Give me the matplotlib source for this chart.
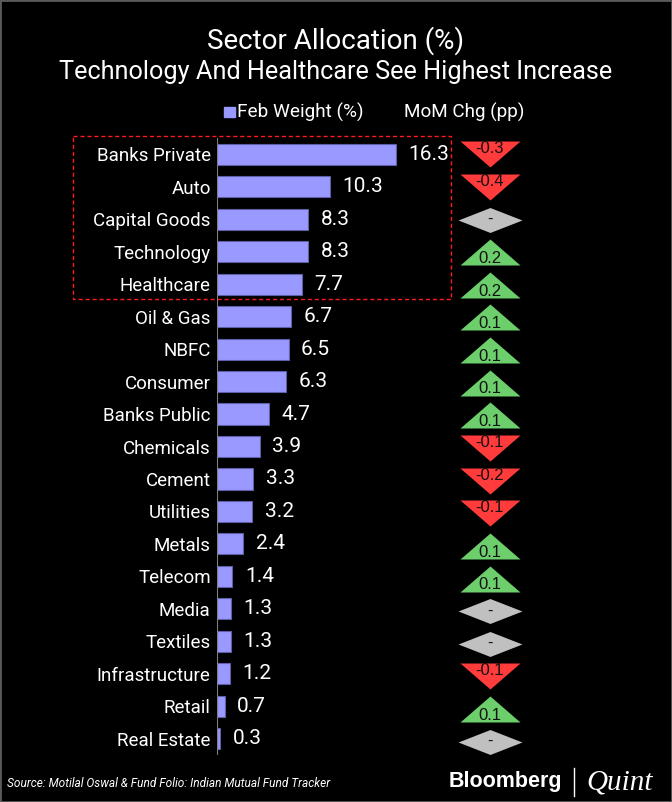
import matplotlib
matplotlib.use('Agg')
import matplotlib.pyplot as plt
from matplotlib.patches import Rectangle
from matplotlib.lines import Line2D
from matplotlib.path import Path

sectors = ['Banks Private', 'Auto', 'Capital Goods', 'Technology', 'Healthcare',
           'Oil & Gas', 'NBFC', 'Consumer', 'Banks Public', 'Chemicals', 'Cement',
           'Utilities', 'Metals', 'Telecom', 'Media', 'Textiles', 'Infrastructure',
           'Retail', 'Real Estate']
feb_weight = [16.3, 10.3, 8.3, 8.3, 7.7, 6.7, 6.5, 6.3, 4.7, 3.9, 3.3, 3.2, 2.4,
              1.4, 1.3, 1.3, 1.2, 0.7, 0.3]
mom_chg = [-0.3, -0.4, 0.0, 0.2, 0.2, 0.1, 0.1, 0.1, 0.1, -0.1, -0.2, -0.1, 0.1,
           0.1, 0.0, 0.0, -0.1, 0.1, 0.0]
n_boxed = 5  # top sectors inside the dashed box

FONT = 'Roboto'
W, H = 672, 802
BAR = '#9999ff'
RED, GREEN, GREY = '#ff3b3b', '#6ccf6c', '#c0c0c0'


def fx(x):
    return x / W


def fy(y):
    return 1 - y / H


fig = plt.figure(figsize=(W / 100, H / 100), dpi=100, facecolor='black')
fig.add_artist(Rectangle((0, 0), 1, 1, transform=fig.transFigure, fill=False,
                         edgecolor='#5a5a5a', lw=2))

# bars
ax = fig.add_axes([fx(217), fy(755), fx(330), (755 - 138) / H])
ax.set_facecolor('black')
rows = list(range(len(sectors)))
ax.barh(rows, feb_weight, height=0.65, color=BAR, edgecolor='#5f5fa8', lw=0.8)
ax.set_xlim(0, 30)
ax.set_ylim(len(sectors) - 0.5, -0.5)
for s in ax.spines.values():
    s.set_visible(False)
ax.axvline(0, color='#808080', lw=1.5)
ax.set_xticks([])
ax.set_yticks(rows, sectors)
ax.tick_params(axis='y', length=0, pad=4.5, labelcolor='white', labelsize=13.5)
for lab in ax.get_yticklabels():
    lab.set_family(FONT)

for i, v in enumerate(feb_weight):
    ax.annotate(f'{v:.1f}', (v, i), xytext=(9, 0), textcoords='offset points',
                va='center', ha='left', color='white', fontsize=15, family=FONT)

# dashed highlight box around the top sectors
ax.add_patch(Rectangle((-13.1, -0.56), 34.4, n_boxed + 0.02, fill=False,
                       edgecolor='#ff1a1a', lw=1, ls=(0, (3, 2)), clip_on=False))

# MoM change markers
mx = fig.add_axes([fx(440), fy(758), fx(100), (758 - 138) / H])
mx.set_xlim(0, 1)
mx.set_ylim(len(sectors) - 0.5, -0.5)
mx.axis('off')
down = Path([(-30, 13), (30, 13), (0, -13), (-30, 13)])
up = Path([(-30, -13), (30, -13), (0, 13), (-30, -13)])
diamond = Path([(-32, 0), (0, 12.5), (32, 0), (0, -12.5), (-32, 0)])
for i, c in enumerate(mom_chg):
    if c < 0:
        mk, col, ms, dy, txt = down, RED, 43.2, 4, f'{c:.1f}'
    elif c > 0:
        mk, col, ms, dy, txt = up, GREEN, 43.2, -4.5, f'{c:.1f}'
    else:
        mk, col, ms, dy, txt = diamond, GREY, 46, 0, '-'
    mx.plot(0.5, i, marker=mk, ms=ms, color=col, mec='none', ls='none')
    mx.annotate(txt, (0.5, i), xytext=(0, dy), textcoords='offset points',
                ha='center', va='center', fontsize=12, color='#111111',
                family='Liberation Sans')

# titles
fig.text(0.5, fy(48.3), 'Sector Allocation (%)', ha='center', va='baseline',
         color='white', fontsize=20, family=FONT)
fig.text(0.5, fy(79.3), 'Technology And Healthcare See Highest Increase',
         ha='center', va='baseline', color='white', fontsize=18.2, family=FONT)

# legend
fig.add_artist(Rectangle((fx(224), fy(117)), fx(11), 10 / H, transform=fig.transFigure,
                         color=BAR))
fig.text(fx(237), fy(117.3), 'Feb Weight (%)', ha='left', va='baseline',
         color='white', fontsize=13.7, family=FONT)
fig.text(fx(404), fy(117.3), 'MoM Chg (pp)', ha='left', va='baseline',
         color='white', fontsize=13.6, family=FONT)

# footer
fig.text(fx(7), fy(786.7), 'Source: Motilal Oswal & Fund Folio: Indian Mutual Fund Tracker',
         ha='left', va='baseline', color='white', fontsize=8.6, style='italic',
         family=FONT)
fig.text(fx(449), fy(786.7), 'Bloomberg', ha='left', va='baseline', color='white',
         fontsize=15.5, weight='bold', family='Liberation Sans')
fig.add_artist(Line2D([fx(573.5), fx(573.5)], [fy(768), fy(796)],
                      transform=fig.transFigure, color='white', lw=1))
fig.text(fx(586), fy(789), 'Quint', ha='left', va='baseline', color='white',
         fontsize=21, style='italic', family='Liberation Serif')

fig.savefig('out.png', dpi=100, facecolor='black')
